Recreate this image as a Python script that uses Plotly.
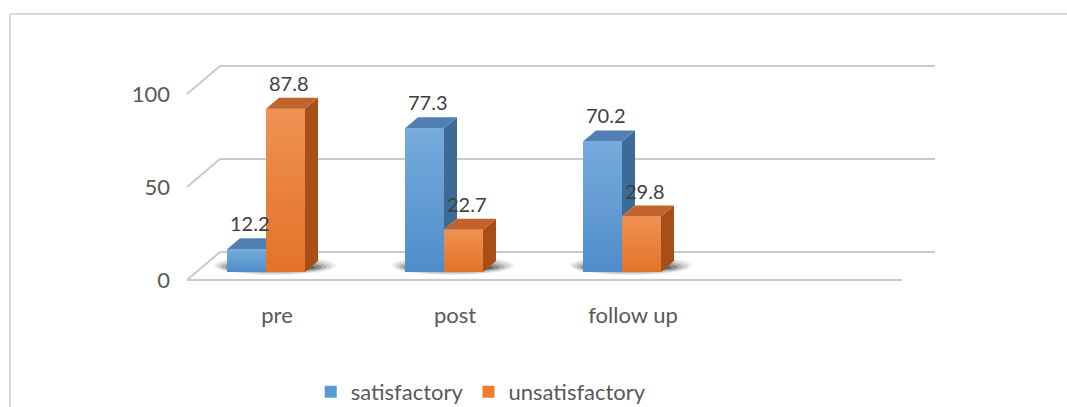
import plotly.graph_objects as go

# ---------------- data ----------------
categories = ["pre", "post", "follow up"]
satisfactory = [12.2, 77.3, 70.2]
unsatisfactory = [87.8, 22.7, 29.8]
series_names = ["satisfactory", "unsatisfactory"]
y_ticks = [0, 50, 100]

# ---------------- styling / geometry (pixels) ----------------
W, H = 1067, 407
FONT = "Lato, Carlito, Calibri, sans-serif"
AXIS_TXT = "#595959"
LABEL_TXT = "#404040"

SLOT_PX = 178            # width of one category slot
NSLOTS = 4               # the chart floor holds four slots (last empty)
X0_PX = 177              # left edge of the x range
Y0_PX = 272              # pixel row of value 0 for the bars
PX_PER_UNIT = 1.86
YMIN, YMAX = -12, 120    # a little room below 0 for the floor edge
BAR_PX = 39              # width of one bar's front face
DEPTH_DX, DEPTH_DY = 13, 11   # 3-D depth offset of bars (px)

FRONT = ["#5B9BD5", "#ED7D31"]
SIDE = ["#3D6A97", "#A84E17"]
TOP = ["#5080B1", "#C1632B"]
GRAD = [
    [[0, "rgba(20,70,150,0.18)"], [1, "rgba(255,255,255,0.16)"]],
    [[0, "rgba(170,60,0,0.15)"], [1, "rgba(255,255,255,0.16)"]],
]

x_range = [-0.5, NSLOTS - 0.5]
x_dom = [X0_PX / W, (X0_PX + SLOT_PX * NSLOTS) / W]
y_dom = [1 - (Y0_PX - PX_PER_UNIT * YMIN) / H,
         1 - (Y0_PX - PX_PER_UNIT * YMAX) / H]

bw = BAR_PX / SLOT_PX                # bar width in x units
dx = DEPTH_DX / SLOT_PX              # depth offset in x units
dy = DEPTH_DY / PX_PER_UNIT          # depth offset in y units
bargap = 1 - 2 * bw

series = [satisfactory, unsatisfactory]
xpos = list(range(len(categories)))

fig = go.Figure()

# front faces: real bars
for s, (name, vals) in enumerate(zip(series_names, series)):
    fig.add_trace(go.Bar(
        x=xpos, y=vals, name=name,
        marker=dict(color=FRONT[s], line=dict(width=0)),
        hoverinfo="skip",
    ))


def poly(xs, ys, color, grad=None):
    xs = list(xs) + [xs[0]]
    ys = list(ys) + [ys[0]]
    kw = dict(fillcolor=color)
    if grad is not None:
        kw = dict(fillgradient=dict(type="vertical", colorscale=grad))
    fig.add_trace(go.Scatter(
        x=xs, y=ys, mode="lines", fill="toself",
        line=dict(width=0, color="rgba(0,0,0,0)"),
        showlegend=False, hoverinfo="skip", **kw,
    ))


# 3-D faces (computed from the values through the axes)
for i in xpos:
    vb, vo = satisfactory[i], unsatisfactory[i]
    for s, v in enumerate([vb, vo]):
        xl = i - bw + s * bw
        xr = xl + bw
        # gradient highlight on the front face
        poly([xl, xr, xr, xl], [0, 0, v, v], None, GRAD[s])
        if s == 0:
            # side face, hidden below the neighbouring bar's height
            if vo < v:
                poly([xr, xr, xr + dx, xr + dx],
                     [vo, v, v + dy, vo + dy], SIDE[s])
            # top face, clipped if the neighbour stands in front of it
            if vo > v:
                poly([xl, xr, xr, xl + dx],
                     [v, v, v + dy, v + dy], TOP[s])
            else:
                poly([xl, xr, xr + dx, xl + dx],
                     [v, v, v + dy, v + dy], TOP[s])
        else:
            poly([xr, xr, xr + dx, xr + dx], [0, v, v + dy, dy], SIDE[s])
            poly([xl, xr, xr + dx, xl + dx], [v, v, v + dy, v + dy], TOP[s])

# data labels
annotations = []
for s, vals in enumerate(series):
    for i, v in enumerate(vals):
        annotations.append(dict(
            x=i - bw / 2 + s * bw, y=v, xref="x", yref="y",
            text=f"{v:.1f}", showarrow=False,
            xanchor="center", yanchor="middle", xshift=3, yshift=26,
            font=dict(family=FONT, size=20, color=LABEL_TXT),
        ))

# chart frame, walls, floor, shadows
GRID = "#C9C9C9"
shapes = [
    dict(type="line", xref="paper", yref="paper",
         x0=10 / W, x1=1, y0=1 - 14 / H, y1=1 - 14 / H,
         line=dict(color="#D9D9D9", width=2)),
    dict(type="line", xref="paper", yref="paper",
         x0=10 / W, x1=10 / W, y0=0, y1=1 - 14 / H,
         line=dict(color="#D9D9D9", width=2)),
    # floor front edge
    dict(type="line", xref="paper", yref="y", ysizemode="pixel", yanchor=0,
         x0=187 / W, x1=902 / W, y0=-8, y1=-8,
         line=dict(color=GRID, width=2), layer="below"),
]
for t in y_ticks:
    shapes.append(dict(type="line", xref="paper", yref="y", ysizemode="pixel",
                       yanchor=t, x0=220 / W, x1=935 / W, y0=20, y1=20,
                       line=dict(color=GRID, width=2), layer="below"))
    shapes.append(dict(type="line", xref="paper", yref="y", ysizemode="pixel",
                       yanchor=t, x0=187 / W, x1=220 / W, y0=-8, y1=20,
                       line=dict(color=GRID, width=2), layer="below"))
for i in xpos:
    for (a, b, c, d, op) in [(-52, 70, -3, 16, 0.07), (-49, 66, -2, 14, 0.10),
                             (-45, 61, -1, 12, 0.15), (-41, 56, 0, 10, 0.22),
                             (-36, 50, 1, 8, 0.30)]:
        shapes.append(dict(type="circle", xref="x", yref="y",
                           xsizemode="pixel", ysizemode="pixel",
                           xanchor=i, yanchor=0, x0=a, x1=b, y0=c, y1=d,
                           fillcolor=f"rgba(0,0,0,{op})", line=dict(width=0),
                           layer="below"))

fig.update_layout(
    width=W, height=H,
    margin=dict(l=0, r=0, t=0, b=0, autoexpand=False),
    paper_bgcolor="white", plot_bgcolor="rgba(0,0,0,0)",
    barmode="group", bargap=bargap, bargroupgap=0,
    font=dict(family=FONT, size=22, color=AXIS_TXT),
    xaxis=dict(domain=x_dom, range=x_range, tickmode="array",
               tickvals=xpos, ticktext=categories, showgrid=False,
               zeroline=False, showline=False, ticks="",
               ticklabelshift=11, ticklabelstandoff=6, automargin=False,
               tickfont=dict(family=FONT, size=22, color=AXIS_TXT),
               fixedrange=True),
    yaxis=dict(domain=y_dom, range=[YMIN, YMAX], tickmode="array",
               tickvals=y_ticks, showgrid=False, zeroline=False,
               showline=False, ticks="", ticklabelshift=8,
               ticklabelstandoff=6, automargin=False,
               tickfont=dict(family=FONT, size=22, color=AXIS_TXT),
               fixedrange=True),
    legend=dict(orientation="h", x=0.451, xanchor="center",
                y=1 - 392 / H, yanchor="middle",
                font=dict(family=FONT, size=22, color=AXIS_TXT),
                traceorder="normal"),
    annotations=annotations,
    shapes=shapes,
    showlegend=True,
)

fig.write_html("out.html")
